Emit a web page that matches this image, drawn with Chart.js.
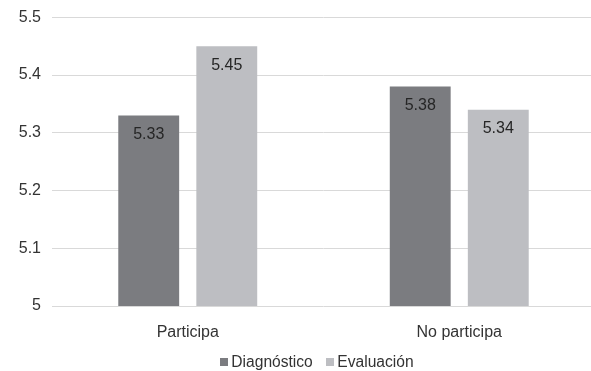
<!DOCTYPE html>
<html>
<head>
<meta charset="utf-8">
<script src="https://cdn.jsdelivr.net/npm/chart.js@4.4.0/dist/chart.umd.min.js"></script>
<style>
  html, body { margin: 0; padding: 0; background: #fff; overflow: hidden; }
  #wrap { position: relative; width: 591px; height: 371px; overflow: hidden; }
  #c { position: absolute; left: 0; top: 0; }
</style>
</head>
<body>
<div id="wrap"><canvas id="c" width="596" height="371"></canvas></div>
<script>
const categories = ['Participa', 'No participa'];
const seriesNames = ['Diagnóstico', 'Evaluación'];
const diagnostico = [5.33, 5.38];
const evaluacion = [5.45, 5.34];
const seriesColors = ['#7b7c80', '#bdbec2'];
const yMin = 5, yMax = 5.5, yStep = 0.1;

const FONT = '"Liberation Sans", Arial, Helvetica, sans-serif';
const TEXT = '#333333';

// Value labels drawn just inside the top of each bar
const valueLabels = {
  id: 'valueLabels',
  afterDatasetsDraw(chart) {
    const ctx = chart.ctx;
    ctx.save();
    ctx.font = '16px ' + FONT;
    ctx.fillStyle = '#262626';
    ctx.textAlign = 'center';
    ctx.textBaseline = 'middle';
    chart.data.datasets.forEach((ds, i) => {
      chart.getDatasetMeta(i).data.forEach((bar, j) => {
        ctx.fillText(ds.data[j].toFixed(2), bar.x, bar.y + 19);
      });
    });
    ctx.restore();
  }
};

// Compact legend centred under the plot: small square swatch then the series name
const bottomLegend = {
  id: 'bottomLegend',
  afterDraw(chart) {
    const ctx = chart.ctx;
    ctx.save();
    ctx.font = '15.6px ' + FONT;
    ctx.textBaseline = 'middle';
    const box = 8, gapText = 3.5, gapItem = 13, y = 361.5, centre = 316.7;
    const items = chart.data.datasets.map(ds => ({ label: ds.label, color: ds.backgroundColor }));
    const widths = items.map(it => box + gapText + ctx.measureText(it.label).width);
    const total = widths.reduce((a, b) => a + b, 0) + gapItem * (items.length - 1);
    let x = centre - total / 2;
    items.forEach((it, k) => {
      ctx.fillStyle = it.color;
      ctx.fillRect(Math.round(x), Math.round(y - box / 2), box, box);
      ctx.fillStyle = TEXT;
      ctx.fillText(it.label, x + box + gapText, y + 1);
      x += widths[k] + gapItem;
    });
    ctx.restore();
  }
};

new Chart(document.getElementById('c'), {
  type: 'bar',
  data: {
    labels: categories,
    datasets: [
      { label: seriesNames[0], data: diagnostico, backgroundColor: seriesColors[0] },
      { label: seriesNames[1], data: evaluacion, backgroundColor: seriesColors[1] }
    ]
  },
  options: {
    responsive: false,
    animation: false,
    devicePixelRatio: 1,
    layout: { padding: { top: 17.3, right: 1, left: 0, bottom: 0 } },
    datasets: { bar: { barPercentage: 0.78, categoryPercentage: 0.575 } },
    plugins: { legend: { display: false }, tooltip: { enabled: false } },
    scales: {
      x: {
        grid: { display: false },
        border: { display: false },
        ticks: { color: TEXT, font: { family: FONT, size: 16 }, padding: 9 },
        afterFit(scale) { scale.height = 65; }
      },
      y: {
        min: yMin,
        max: yMax,
        grid: { color: '#d9d9d9', lineWidth: 1, drawTicks: false },
        border: { display: false },
        ticks: {
          stepSize: yStep,
          color: TEXT,
          font: { family: FONT, size: 16 },
          padding: 11,
          callback: v => Number(v.toFixed(1)).toString()
        },
        afterFit(scale) {
          scale.width = 52;
          scale.paddingTop = 0;
          scale.paddingBottom = 0;
        }
      }
    }
  },
  plugins: [valueLabels, bottomLegend]
});
</script>
</body>
</html>
